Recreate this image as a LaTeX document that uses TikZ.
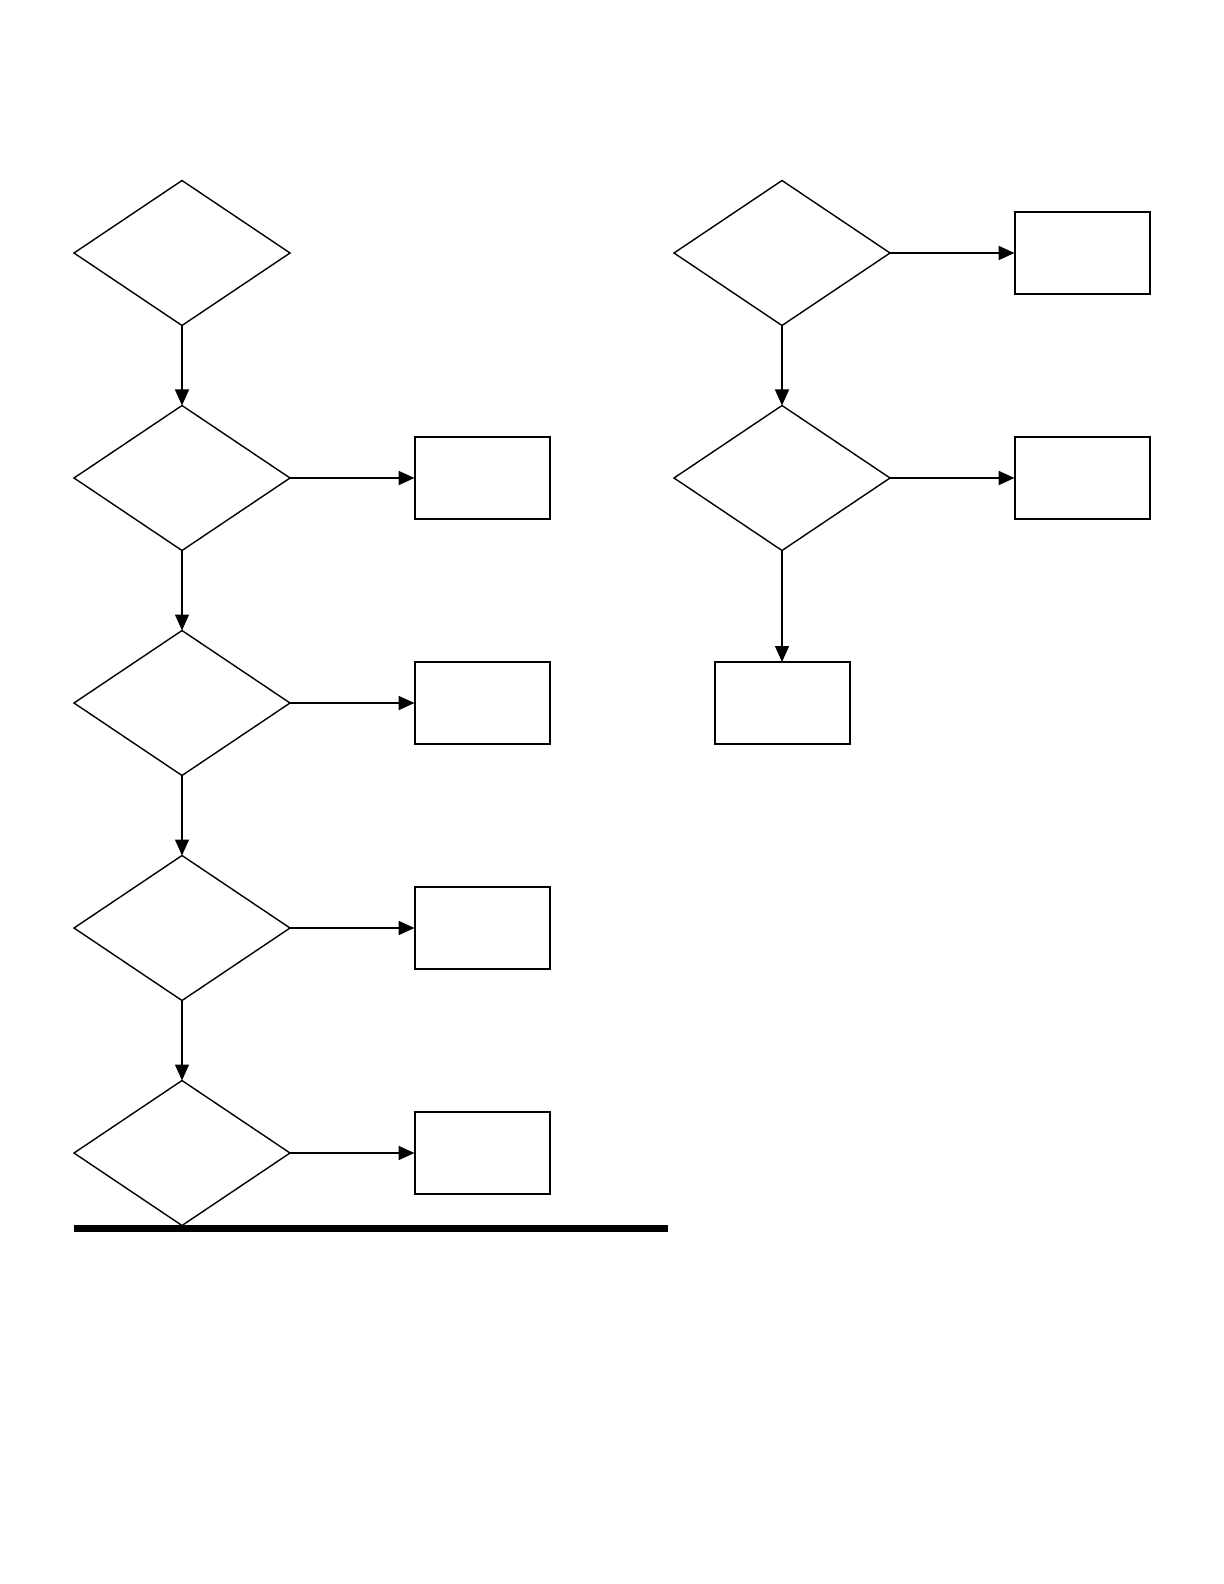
\documentclass[tikz,border=0pt]{standalone}
\usetikzlibrary{shapes.geometric,arrows.meta}
\begin{document}
\begin{tikzpicture}[x=0.5pt, y=-0.5pt, every node/.style={outer sep=0pt, inner sep=0pt}, dec/.style={diamond, draw, line width=0.7pt, minimum width=108pt, minimum height=72.5pt}, box/.style={rectangle, draw, line width=1pt, minimum width=67.5pt, minimum height=41pt}, >={Triangle[length=8pt, width=7pt]}]
        \useasboundingbox (0,0) rectangle (1224,1584);
        \node[dec] (d1) at (182, 253) {};
        \node[dec] (d2) at (182, 478) {};
        \node[dec] (d3) at (182, 703) {};
        \node[dec] (d4) at (182, 928) {};
        \node[dec] (d5) at (182, 1153) {};
        \node[box] (b2) at (482, 478) {};
        \node[box] (b3) at (482, 703) {};
        \node[box] (b4) at (482, 928) {};
        \node[box] (b5) at (482, 1153) {};
        \node[dec] (r1) at (782, 253) {};
        \node[dec] (r2) at (782, 478) {};
        \node[box] (s1) at (1082, 253) {};
        \node[box] (s2) at (1082, 478) {};
        \node[box] (s3) at (782, 703) {};
        \draw[->, line width=0.7pt] (d1) -- (d2);
        \draw[->, line width=0.7pt] (d2) -- (d3);
        \draw[->, line width=0.7pt] (d3) -- (d4);
        \draw[->, line width=0.7pt] (d4) -- (d5);
        \draw[->, line width=1pt] (d2) -- (b2);
        \draw[->, line width=1pt] (d3) -- (b3);
        \draw[->, line width=1pt] (d4) -- (b4);
        \draw[->, line width=1pt] (d5) -- (b5);
        \draw[->, line width=1pt] (r1) -- (s1);
        \draw[->, line width=0.7pt] (r1) -- (r2);
        \draw[->, line width=1pt] (r2) -- (s2);
        \draw[->, line width=0.7pt] (r2) -- (s3);
        \draw[line width=3.5pt] (74, 1228) -- (668, 1228);
    \end{tikzpicture}
\end{document}
